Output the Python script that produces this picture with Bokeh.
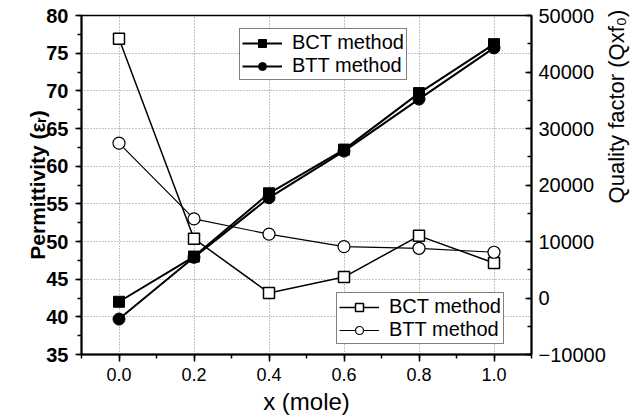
import math
from bokeh.plotting import figure
from bokeh.models import (Range1d, LinearAxis, SingleIntervalTicker, FixedTicker, Legend,
                          LegendItem, NumeralTickFormatter)
from bokeh.embed import file_html
from bokeh.resources import INLINE

# ---- data ----
x_mole = [0.0, 0.2, 0.4, 0.6, 0.8, 1.0]
perm_bct = [42.0, 48.0, 56.4, 62.2, 69.7, 76.2]
perm_btt = [39.7, 47.9, 55.8, 62.0, 68.9, 75.7]
q_bct = [45900, 10500, 900, 3700, 11000, 6200]
q_btt = [27400, 14000, 11300, 9100, 8800, 8100]
series_labels = ["BCT method", "BTT method"]
right_title = "Quality factor (Qxf\u2080)"

FONT = "Liberation Sans"

p = figure(width=644, height=417, output_backend="svg", toolbar_location=None,
           x_range=Range1d(-0.1, 1.1), y_range=Range1d(35, 80),
           min_border_left=81, min_border_right=103, min_border_top=15, min_border_bottom=62,
           y_axis_location="left")
p.extra_y_ranges = {"q": Range1d(-10000, 50000)}

p.background_fill_color = "white"
p.border_fill_color = "white"
p.outline_line_color = "black"
p.outline_line_width = 1.5

# x axis
xa = p.xaxis[0]
xa.ticker = SingleIntervalTicker(interval=0.2, num_minor_ticks=2)
xa.formatter = NumeralTickFormatter(format="0.0")
xa.axis_label = "x (mole)"
# left axis
ya = p.yaxis[0]
ya.ticker = SingleIntervalTicker(interval=5, num_minor_ticks=2)
ya.axis_label = "Permittivity (\u03b5\u1d63)"
# right axis
ra = LinearAxis(y_range_name="q", ticker=SingleIntervalTicker(interval=10000, num_minor_ticks=2))
p.add_layout(ra, "right")

for ax in [xa, ya, ra]:
    ax.axis_line_color = "black"
    ax.axis_line_width = 2
    ax.major_tick_line_color = "black"
    ax.minor_tick_line_color = "black"
    ax.major_tick_line_width = 1.5
    ax.minor_tick_line_width = 1.5
    ax.major_label_text_font = FONT
    ax.axis_label_text_font = FONT
    ax.major_label_text_color = "black"
    ax.axis_label_text_color = "black"
    ax.axis_label_text_font_style = "normal"

xa.major_tick_out = 7; xa.major_tick_in = 0
xa.minor_tick_out = 4; xa.minor_tick_in = 0
xa.major_label_text_font_size = "18px"
xa.axis_label_text_font_size = "24px"
xa.major_label_standoff = 6
xa.axis_label_standoff = 4

ya.major_tick_out = 6; ya.major_tick_in = 0
ya.minor_tick_out = 4; ya.minor_tick_in = 0
ya.major_label_text_font_size = "20px"
ya.major_label_text_font_style = "bold"
ya.axis_label_text_font_size = "21px"
ya.axis_label_text_font_style = "bold"
ya.major_label_standoff = 7
ya.axis_label_standoff = -6

ra.major_tick_out = 0; ra.major_tick_in = 6
ra.minor_tick_out = 0; ra.minor_tick_in = 4
ra.major_label_text_font_size = "20px"
ra.major_label_standoff = 7

# right-side title, drawn as the single label of a bare extra axis (reads bottom-to-top)
ta = LinearAxis(y_range_name="q", ticker=FixedTicker(ticks=[20000], minor_ticks=[]),
                major_label_overrides={20000: right_title})
ta.axis_line_color = None
ta.major_tick_line_color = None
ta.minor_tick_line_color = None
ta.major_tick_out = 0
ta.major_tick_in = 0
ta.major_label_orientation = math.pi / 2
ta.major_label_text_font = FONT
ta.major_label_text_font_size = "22px"
ta.major_label_text_color = "black"
ta.major_label_standoff = 8
p.add_layout(ta, "right")

# grid
p.xgrid.grid_line_color = "#888888"
p.xgrid.grid_line_dash = "1 2"
p.ygrid.grid_line_color = "#888888"
p.ygrid.grid_line_dash = "1 2"
p.xgrid.ticker = xa.ticker
p.ygrid.ticker = ya.ticker

# permittivity series (filled)
l1 = p.line(x_mole, perm_bct, line_color="black", line_width=2)
m1 = p.scatter(x_mole, perm_bct, marker="square", size=11, fill_color="black", line_color="black")
l2 = p.line(x_mole, perm_btt, line_color="black", line_width=2)
m2 = p.scatter(x_mole, perm_btt, marker="circle", size=12, fill_color="black", line_color="black")

# quality factor series (open)
l3 = p.line(x_mole, q_bct, line_color="black", line_width=1.5, y_range_name="q")
m3 = p.scatter(x_mole, q_bct, marker="square", size=11, fill_color="white", line_color="black",
               line_width=1.5, y_range_name="q")
l4 = p.line(x_mole, q_btt, line_color="black", line_width=1.2, y_range_name="q")
m4 = p.scatter(x_mole, q_btt, marker="circle", size=12, fill_color="white", line_color="black",
               line_width=1.2, y_range_name="q")


def make_legend(items, loc):
    lg = Legend(items=items, location=loc, orientation="vertical")
    lg.border_line_color = "black"
    lg.border_line_width = 1.5
    lg.background_fill_color = "white"
    lg.background_fill_alpha = 1
    lg.label_text_font = FONT
    lg.label_text_font_size = "20px"
    lg.label_text_color = "black"
    lg.padding = 2
    lg.margin = 0
    lg.spacing = 0
    lg.glyph_width = 40
    lg.glyph_height = 20
    lg.label_height = 20
    lg.label_standoff = 10
    return lg


leg1 = make_legend([LegendItem(label=series_labels[0], renderers=[l1, m1]),
                    LegendItem(label=series_labels[1], renderers=[l2, m2])], (158, 274))
leg2 = make_legend([LegendItem(label=series_labels[0], renderers=[l3, m3]),
                    LegendItem(label=series_labels[1], renderers=[l4, m4])], (255, 10))
p.add_layout(leg1, "center")
p.add_layout(leg2, "center")

open("out.html", "w").write(file_html(p, INLINE))
